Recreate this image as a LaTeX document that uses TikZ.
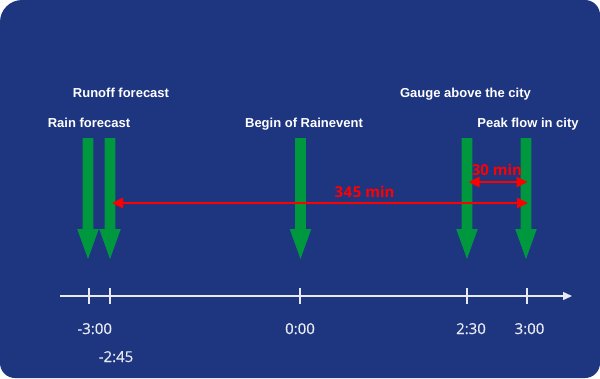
\documentclass[tikz,border=0pt]{standalone}
\usepackage{fontspec}
\setmainfont{Liberation Sans}
\newfontfamily\tickfont{Open Sans}[FakeBold=0.4]
\newfontfamily\redfont{Open Sans}[BoldFont={* Bold}]
\usetikzlibrary{arrows.meta}
\definecolor{bgblue}{RGB}{30,53,128}
\definecolor{agreen}{RGB}{0,152,62}
\definecolor{ared}{RGB}{255,0,0}
\definecolor{axiscol}{RGB}{232,234,242}
\begin{document}
\begin{tikzpicture}[x=1pt,y=-1pt,
  lbl/.style={text=white,font=\fontsize{13}{13}\selectfont\bfseries,anchor=base,inner sep=0pt},
  ticklbl/.style={text=axiscol,font=\tickfont\fontsize{15}{15}\selectfont,anchor=base,inner sep=0pt},
  redlbl/.style={text=ared,font=\redfont\bfseries\fontsize{15}{15}\selectfont,anchor=base,inner sep=0pt},
  redarrow/.style={draw=ared,line width=2.6pt,{Triangle[length=11pt,width=10pt]}-{Triangle[length=11pt,width=10pt]}},
  axisline/.style={draw=axiscol,line width=1.4pt},
  garrow/.style={fill=agreen}
]
\useasboundingbox (0,0) rectangle (600,378);
\fill[white] (0,0) rectangle (600,378);
\fill[bgblue] (0,189) [rounded corners=22pt] -- (0,0) [rounded corners=15pt] -- (600,0) -- (600,378) -- (0,378) -- (0,189);
% green arrows
\foreach \x/\n in {88/g1,110/g2,300.5/g3,467/g4,526/g5}{
  \fill[garrow] (\x-5.3,138) -- (\x+5.3,138) -- (\x+5.3,229) -- (\x+10.8,229) -- (\x,259) -- (\x-10.8,229) -- (\x-5.3,229) -- cycle;
  \coordinate (\n) at (\x,138);
}
% labels
\node[lbl] (runoff) at (121,97) {Runoff forecast};
\node[lbl] (rain) at (89,127) {Rain forecast};
\node[lbl] (begin) at (304,127) {Begin of Rainevent};
\node[lbl] (gauge) at (465.5,97) {Gauge above the city};
\node[lbl] (peak) at (528,127) {Peak flow in city};
% red arrows
\coordinate (r1) at (112,203);
\coordinate (r2) at (528,203);
\coordinate (s1) at (468.5,182);
\coordinate (s2) at (527.5,182);
\draw[redarrow] (r1) -- (r2);
\draw[redarrow] (s1) -- (s2);
\node[redlbl] (m345) at (364.5,197.5) {3\kern0.6pt4\kern0.6pt5 min};
\node[redlbl] (m30) at (497,175.7) {30 min};
% axis
\coordinate (ax0) at (60,296);
\coordinate (ax1) at (572,296);
\draw[axisline,-{Triangle[length=9pt,width=8pt]}] (ax0) -- (ax1);
\foreach \x in {89,110,300,467,527}{
  \draw[axisline,line width=1.2pt] (\x,288) -- (\x,304);
}
\node[ticklbl] (t1) at (94.7,334) {-3:00};
\node[ticklbl] (t2) at (116,362) {-2:45};
\node[ticklbl] (t3) at (300,334) {0:00};
\node[ticklbl] (t4) at (471,334) {2:30};
\node[ticklbl] (t5) at (529.5,334) {3:00};
\end{tikzpicture}
\end{document}
